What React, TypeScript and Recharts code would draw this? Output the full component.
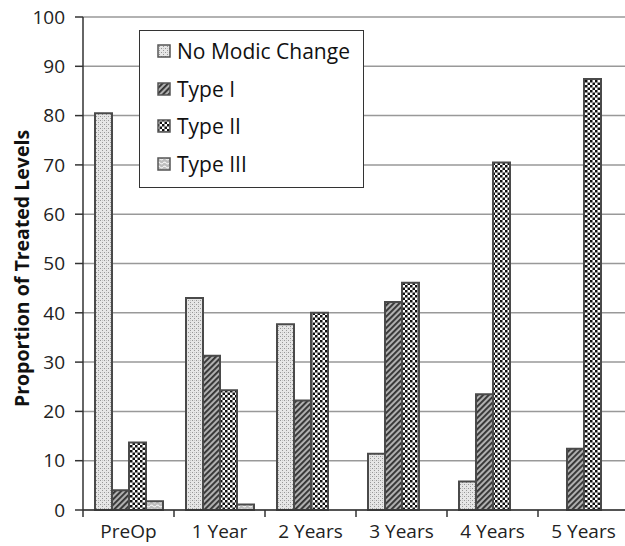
import React from 'react';
import { BarChart, Bar, XAxis, YAxis, CartesianGrid, Legend } from 'recharts';

const categories = ['PreOp', '1 Year', '2 Years', '3 Years', '4 Years', '5 Years'];
const noModicChange = [80.5, 43.0, 37.7, 11.4, 5.8, 0];
const typeI = [4.0, 31.3, 22.2, 42.2, 23.5, 12.4];
const typeII = [13.7, 24.3, 40.0, 46.1, 70.5, 87.4];
const typeIII = [1.8, 1.1, 0, 0, 0, 0];
const yTicks = [0, 10, 20, 30, 40, 50, 60, 70, 80, 90, 100];
const seriesNames = ['No Modic Change', 'Type I', 'Type II', 'Type III'];
const seriesKeys = ['noModic', 'typeI', 'typeII', 'typeIII'];
const patternIds = ['pNone', 'pT1', 'pT2', 'pT3'];

const data = categories.map((c, i) => ({
  category: c,
  noModic: noModicChange[i],
  typeI: typeI[i],
  typeII: typeII[i],
  typeIII: typeIII[i],
}));

const FONT = '"Open Sans", "DejaVu Sans", sans-serif';
const X_TICK_MARGIN = 15;

const YLabel = (props: any) => {
  const vb = props.viewBox || { x: 0, y: 17, width: 83, height: 493 };
  const cx = vb.x + 21;
  const cy = vb.y + vb.height / 2 + 5;
  return (
    <text
      x={cx}
      y={cy}
      transform={`rotate(-90 ${cx} ${cy})`}
      textAnchor="middle"
      dominantBaseline="central"
      fontWeight="bold"
      fontSize={19.5}
      fontFamily={FONT}
      fill="#111"
    >
      Proportion of Treated Levels
    </text>
  );
};

const CatTick = (props: any) => {
  const { x, y, payload, width, visibleTicksCount, index } = props;
  const axisY = y - X_TICK_MARGIN;
  const half = width && visibleTicksCount ? width / visibleTicksCount / 2 : 0;
  return (
    <g>
      {half > 0 && (
        <line x1={x + half} x2={x + half} y1={axisY} y2={axisY + 7} stroke="#333" strokeWidth={1.5} />
      )}
      {half > 0 && index === 0 && (
        <line x1={x - half} x2={x - half} y1={axisY} y2={axisY + 7} stroke="#333" strokeWidth={1.5} />
      )}
      <text x={x} y={y} dy="0.71em" textAnchor="middle" fill="#222" fontSize={19} fontFamily={FONT}>
        {payload.value}
      </text>
    </g>
  );
};

const LegendBox = () => (
  <div
    style={{
      width: 225,
      height: 158,
      boxSizing: 'border-box',
      border: '1.5px solid #333',
      background: '#fff',
      paddingTop: 1,
      paddingLeft: 17,
      fontFamily: FONT,
    }}
  >
    {seriesNames.map((name, i) => (
      <div key={name} style={{ display: 'flex', alignItems: 'center', height: 37.7 }}>
        <svg width={14} height={14} style={{ display: 'block' }}>
          <rect x={1} y={1} width={12} height={12} fill={`url(#${patternIds[i]})`} stroke="#555" strokeWidth={1.5} />
        </svg>
        <span style={{ marginLeft: 6, fontSize: 21, color: '#111', lineHeight: '24px' }}>{name}</span>
      </div>
    ))}
  </div>
);

export default function App() {
  return (
    <div style={{ position: 'absolute', left: 0, top: 0, width: 625, height: 546, overflow: 'hidden', background: '#fff', fontFamily: FONT }}>
      <BarChart
        width={640}
        height={546}
        data={data}
        margin={{ top: 17, right: 11, bottom: 0, left: 0 }}
        barGap={0}
        barSize={17}
      >
        <defs>
          <pattern id="pNone" width="4" height="4" patternUnits="userSpaceOnUse">
            <rect width="4" height="4" fill="#e6e6e6" />
            <rect x="0" y="0" width="1" height="1" fill="#969696" />
            <rect x="2" y="2" width="1" height="1" fill="#969696" />
            <rect x="2" y="0" width="1" height="1" fill="#c4c4c4" />
          </pattern>
          <pattern id="pT1" width="4" height="4" patternUnits="userSpaceOnUse" patternTransform="rotate(45)">
            <rect width="4" height="4" fill="#b0b0b0" />
            <rect width="1.9" height="4" fill="#333" />
          </pattern>
          <pattern id="pT2" width="5" height="5" patternUnits="userSpaceOnUse">
            <rect width="5" height="5" fill="#fff" />
            <rect width="2.5" height="2.5" fill="#111" />
            <rect x="2.5" y="2.5" width="2.5" height="2.5" fill="#111" />
          </pattern>
          <pattern id="pT3" width="6" height="4" patternUnits="userSpaceOnUse">
            <rect width="6" height="4" fill="#bdbdbd" />
            <path d="M0 2 Q1.5 0.3 3 2 T6 2" stroke="#f4f4f4" strokeWidth="1.1" fill="none" />
          </pattern>
        </defs>
        <CartesianGrid vertical={false} stroke="#999" strokeWidth={1.5} />
        <XAxis
          dataKey="category"
          height={36}
          interval={0}
          tickLine={false}
          axisLine={{ stroke: '#333', strokeWidth: 1.5 }}
          tickSize={0}
          tickMargin={X_TICK_MARGIN}
          tick={<CatTick />}
        />
        <YAxis
          width={83}
          domain={[0, 100]}
          ticks={yTicks}
          interval={0}
          axisLine={{ stroke: '#333', strokeWidth: 1.5 }}
          tickLine={{ stroke: '#333', strokeWidth: 1.5 }}
          tickSize={8}
          tickMargin={10}
          tick={{ fill: '#222', fontSize: 19, fontFamily: FONT }}
          label={<YLabel />}
        />
        <Legend
          layout="vertical"
          align="center"
          verticalAlign="middle"
          wrapperStyle={{ left: 139, top: 30, width: 225, height: 158 }}
          content={<LegendBox />}
        />
        {seriesKeys.map((k, i) => (
          <Bar
            key={k}
            dataKey={k}
            name={seriesNames[i]}
            fill={`url(#${patternIds[i]})`}
            stroke="#4a4a4a"
            strokeWidth={2}
            isAnimationActive={false}
          />
        ))}
      </BarChart>
    </div>
  );
}
